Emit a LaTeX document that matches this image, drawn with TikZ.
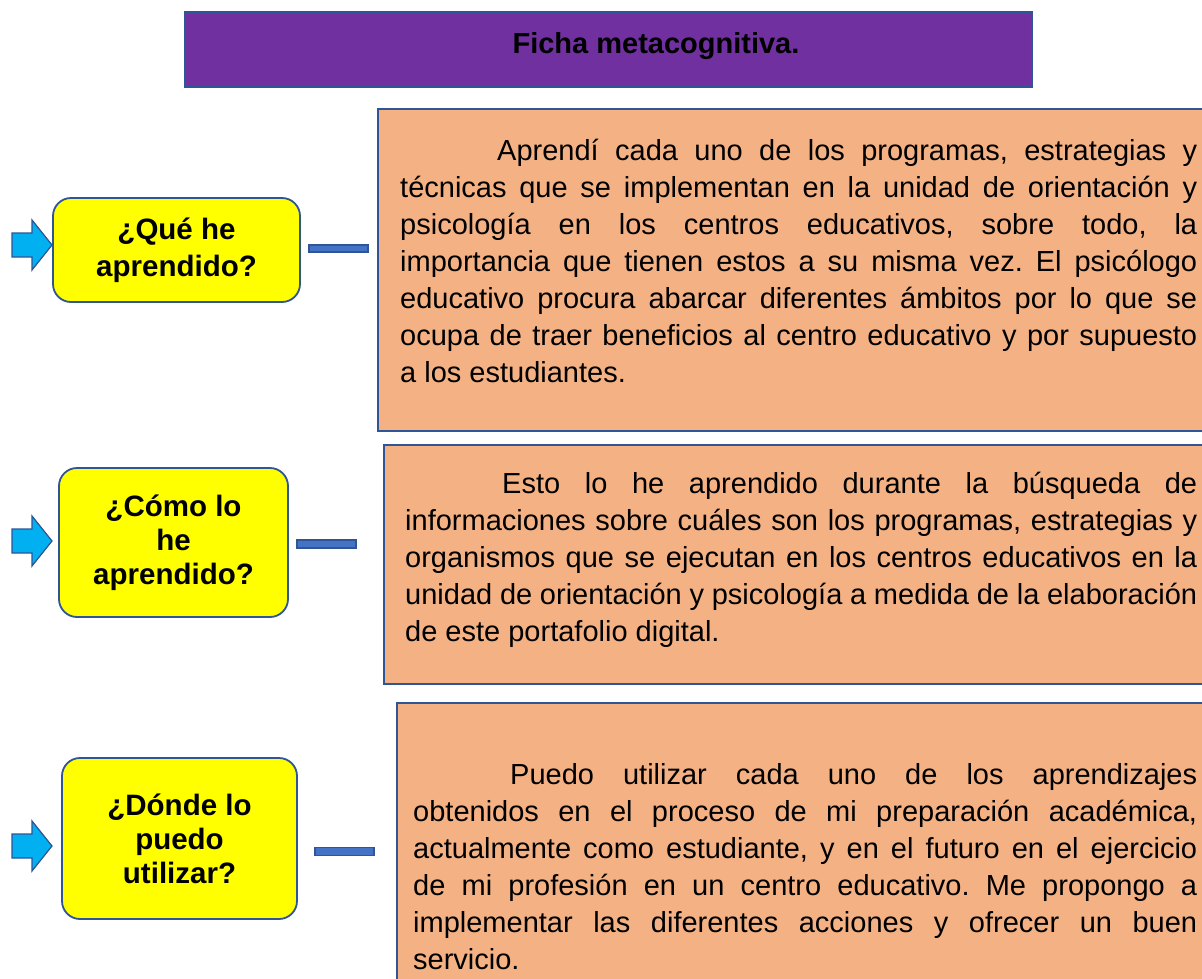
\documentclass[tikz,border=0pt]{standalone}
\usepackage{fontspec}
\setmainfont{Liberation Sans}
\frenchspacing
\definecolor{purp}{HTML}{7030A0}
\definecolor{edge}{HTML}{2F5597}
\definecolor{orng}{HTML}{F4B183}
\definecolor{yell}{HTML}{FFFF00}
\definecolor{cyanarr}{HTML}{00B0F0}
\definecolor{barblue}{HTML}{4472C4}
\begin{document}
\begin{tikzpicture}[x=1pt,y=-1pt,
  titlebox/.style={draw=edge, line width=1.8pt, fill=purp, rectangle, inner sep=0pt},
  obox/.style={draw=edge, line width=2pt, fill=orng, rectangle, inner sep=0pt, anchor=north west},
  btext/.style={anchor=base west, inner sep=0pt, align=justify, font=\fontsize{29}{37}\selectfont},
  ybox/.style={draw=edge, line width=1.8pt, fill=yell, rounded corners=18pt, inner sep=0pt, align=center, font=\fontsize{29.5}{34}\selectfont\bfseries},
  dashbar/.style={draw=edge, line width=1.2pt, fill=barblue, rectangle, inner sep=0pt},
  arrowshape/.style={draw=edge, line width=1.2pt, fill=cyanarr, line join=miter}
]
\useasboundingbox (0,0) rectangle (1202,978);
\fill[white] (0,0) rectangle (1202,978);

% title
\node[titlebox, minimum width=847pt, minimum height=75pt] (title) at (608.5,49.5) {};
\node[anchor=base, inner sep=0pt, font=\fontsize{29}{34}\selectfont\bfseries] (titletext) at (656,53) {Ficha metacognitiva.};

% orange boxes
\node[obox, minimum width=900pt, minimum height=322pt] (b1) at (377,108) {};
\node[obox, minimum width=900pt, minimum height=239pt] (b2) at (383,444) {};
\node[obox, minimum width=900pt, minimum height=320pt] (b3) at (396,702) {};

\node[btext, text width=797pt] (t1) at (400,160) {\hspace*{97pt}Aprendí cada uno de los programas, estrategias y\linebreak
técnicas que se implementan en la unidad de orientación y\linebreak
psicología en los centros educativos, sobre todo, la\linebreak
importancia que tienen estos a su misma vez. El psicólogo\linebreak
educativo procura abarcar diferentes ámbitos por lo que se\linebreak
ocupa de traer beneficios al centro educativo y por supuesto\linebreak
a los estudiantes.};

\node[btext, text width=792pt] (t2) at (405,493) {\hspace*{97pt}Esto lo he aprendido durante la búsqueda de\linebreak
informaciones sobre cuáles son los programas, estrategias y\linebreak
organismos que se ejecutan en los centros educativos en la\linebreak
unidad de orientación y psicología a medida de la elaboración\linebreak
de este portafolio digital.};

\node[btext, text width=784pt] (t3) at (413,784) {\hspace*{97pt}Puedo utilizar cada uno de los aprendizajes\linebreak
obtenidos en el proceso de mi preparación académica,\linebreak
actualmente como estudiante, y en el futuro en el ejercicio\linebreak
de mi profesión en un centro educativo. Me propongo a\linebreak
implementar las diferentes acciones y ofrecer un buen\linebreak
servicio.};

% yellow boxes
\node[ybox, minimum width=247pt, minimum height=104pt, font=\fontsize{29.5}{37}\selectfont\bfseries] (q1) at (176.5,250) {¿Qué he\\aprendido?};
\node[ybox, minimum width=229pt, minimum height=149pt] (q2) at (173.5,542.5) {¿Cómo lo\\he\\aprendido?};
\node[ybox, minimum width=235pt, minimum height=161pt] (q3) at (179.5,838.5) {¿Dónde lo\\puedo\\utilizar?};

% bars between question and answer
\node[dashbar, minimum width=59pt, minimum height=7pt] (d1) at (338.5,248.5) {};
\node[dashbar, minimum width=59pt, minimum height=8pt] (d2) at (326.5,544) {};
\node[dashbar, minimum width=59pt, minimum height=8pt] (d3) at (344.5,851.5) {};

% block arrows
\coordinate (a1) at (12,245);
\coordinate (a2) at (12,541);
\coordinate (a3) at (12,846);
\foreach \a in {a1,a2,a3}{
  \draw[arrowshape] (\a) ++(0,-12) -- ++(20,0) -- ++(0,-13) -- ++(20,25) -- ++(-20,25) -- ++(0,-13) -- ++(-20,0) -- cycle;
}
\end{tikzpicture}
\end{document}
